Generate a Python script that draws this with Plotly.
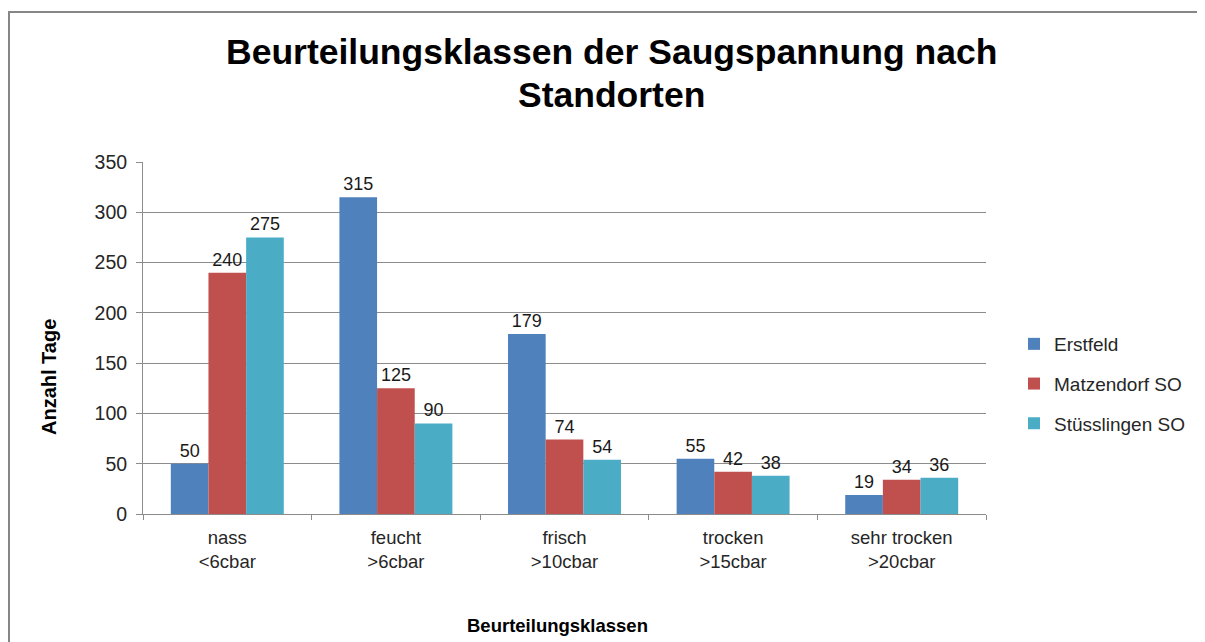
import plotly.graph_objects as go

categories = ["nass<br>&lt;6cbar", "feucht<br>&gt;6cbar", "frisch<br>&gt;10cbar",
              "trocken<br>&gt;15cbar", "sehr trocken<br>&gt;20cbar"]
series_names = ["Erstfeld", "Matzendorf SO", "Stüsslingen SO"]
erstfeld = [50, 315, 179, 55, 19]
matzendorf = [240, 125, 74, 42, 34]
stuesslingen = [275, 90, 54, 38, 36]
y_ticks = [0, 50, 100, 150, 200, 250, 300, 350]

colors = ["#4F81BD", "#C0504D", "#4BACC6"]
FONT = "Liberation Sans, Arial, sans-serif"
TXT = "#262626"

fig = go.Figure()
for name, vals, col in zip(series_names, [erstfeld, matzendorf, stuesslingen], colors):
    fig.add_trace(go.Bar(
        x=categories, y=vals, name=name, legendgroup=name,
        marker=dict(color=col, line=dict(width=0)),
        text=[str(v) for v in vals], textposition="outside",
        textfont=dict(family=FONT, size=18, color="#1a1a1a"),
        cliponaxis=False,
    ))

# page body has an 8px margin; work in reference pixel coordinates shifted by it
OFF = 8
W, H = 1205, 642
px_left, px_right, px_top, px_bottom = 143 - OFF, 986 - OFF, 162 - OFF, 514 - OFF
L, R, T, B = px_left, W - px_right, px_top, H - px_bottom
pw, ph = px_right - px_left, px_bottom - px_top


def fx(x):
    return (x - OFF - px_left) / pw


def fy(y):
    return (px_bottom - (y - OFF)) / ph


fig.update_layout(
    width=W, height=H,
    margin=dict(l=L, r=R, t=T, b=B, autoexpand=False),
    paper_bgcolor="white", plot_bgcolor="white",
    barmode="group", bargap=0.33, bargroupgap=0,
    font=dict(family=FONT, size=19, color=TXT),
    showlegend=True,
    legend=dict(x=fx(1014), xanchor="left", y=fy(384), yanchor="middle",
                font=dict(family=FONT, size=19, color=TXT),
                tracegroupgap=12, itemwidth=30),
    xaxis=dict(
        showline=True, linecolor="#8c8c8c", linewidth=1,
        ticks="outside", tickson="boundaries", ticklen=5, tickcolor="#8c8c8c",
        ticklabelstandoff=7,
        tickfont=dict(family=FONT, size=18.5, color=TXT),
    ),
    yaxis=dict(
        range=[0, 350], tickvals=y_ticks, ticktext=[str(v) for v in y_ticks],
        showline=True, linecolor="#8c8c8c", linewidth=1,
        showgrid=True, gridcolor="#8c8c8c", gridwidth=1, zeroline=False,
        ticks="outside", ticklen=6, tickcolor="#8c8c8c", ticklabelstandoff=5,
        tickfont=dict(family=FONT, size=19.5, color=TXT),
    ),
    annotations=[
        dict(text="<b>Beurteilungsklassen der Saugspannung nach</b>", xref="paper", yref="paper",
             x=fx(611), y=fy(52), xanchor="center", yanchor="middle",
             showarrow=False, font=dict(family=FONT, size=35.5, color="black")),
        dict(text="<b>Standorten</b>", xref="paper", yref="paper",
             x=fx(611), y=fy(95), xanchor="center", yanchor="middle",
             showarrow=False, font=dict(family=FONT, size=35.5, color="black")),
        dict(text="<b>Beurteilungsklassen</b>", xref="paper", yref="paper",
             x=fx(557), y=fy(625), xanchor="center", yanchor="middle",
             showarrow=False, font=dict(family=FONT, size=18.5, color="black")),
        dict(text="<b>Anzahl Tage</b>", xref="paper", yref="paper", textangle=-90,
             x=fx(49), y=fy(377), xanchor="center", yanchor="middle",
             showarrow=False, font=dict(family=FONT, size=20, color="black")),
    ],
    shapes=[dict(type="rect", xref="paper", yref="paper",
                 x0=fx(9), x1=fx(1225),
                 y0=fy(670), y1=fy(12),
                 line=dict(color="#868686", width=2), fillcolor="rgba(0,0,0,0)", layer="below")],
)

fig.write_html("out.html")
